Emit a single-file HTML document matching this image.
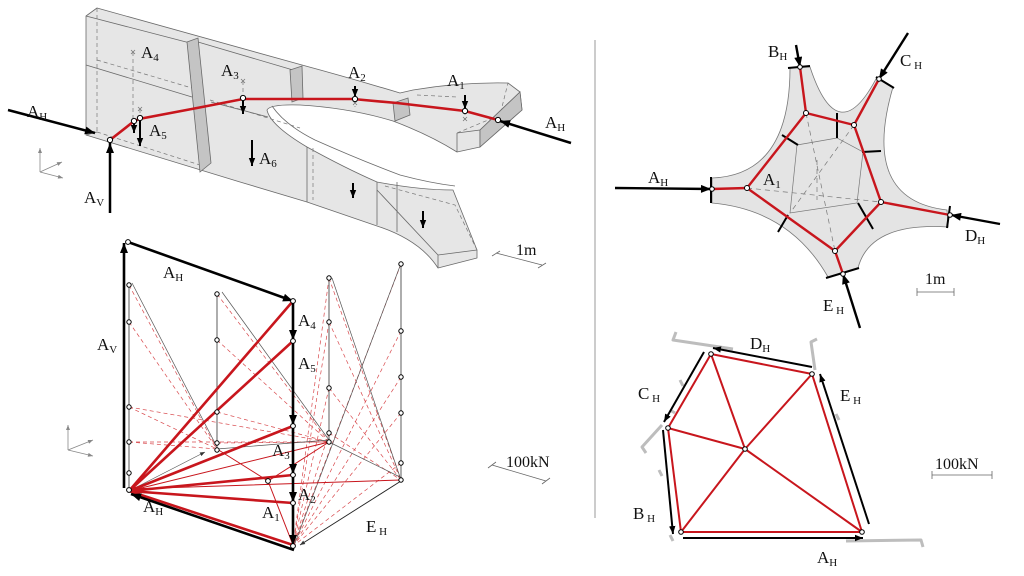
<!DOCTYPE html>
<html><head><meta charset="utf-8"><style>
html,body{margin:0;padding:0;background:#fff;}
svg{display:block;}
text{font-family:"Liberation Serif",serif;fill:#111;}
</style></head><body>
<svg width="1024" height="576" viewBox="0 0 1024 576" xmlns="http://www.w3.org/2000/svg">
<defs>
<marker id="ab" viewBox="0 0 10 8" refX="10" refY="4" markerWidth="11" markerHeight="8" orient="auto" markerUnits="userSpaceOnUse"><path d="M0,0 L10,4 L0,8 z" fill="#000"/></marker>
<marker id="as" viewBox="0 0 10 8" refX="10" refY="4" markerWidth="8" markerHeight="7" orient="auto" markerUnits="userSpaceOnUse"><path d="M0,0 L10,4 L0,8 z" fill="#000"/></marker>
<marker id="at" viewBox="0 0 10 8" refX="10" refY="4" markerWidth="6" markerHeight="4" orient="auto" markerUnits="userSpaceOnUse"><path d="M0,0 L10,4 L0,8 z" fill="#333"/></marker>
<marker id="ag" viewBox="0 0 10 8" refX="10" refY="4" markerWidth="6" markerHeight="4" orient="auto" markerUnits="userSpaceOnUse"><path d="M0,0 L10,4 L0,8 z" fill="#888"/></marker>
</defs>

<!-- ================= TOP LEFT 3D ================= -->
<g stroke="#6a6a6a" stroke-width="0.8" fill="#e6e6e6" stroke-linejoin="round">
<path d="M86,16 L97,8 L302,65 Q350,78 400,93 L413,90 Q460,82 508,83 L520,92 L522,110 L480,147 L457,152 Q430,135 393,121 Q350,108 300,105 Q270,104 267,110 Q270,125 307,147 Q345,168 377,182 Q420,190 453,190 L477,250 L477,258 L438,268 Q420,240 377,226 L307,202 L240,182 L86,135 Z"/>
</g>
<g fill="none" stroke="#6a6a6a" stroke-width="0.8">
<path d="M86,16 L190,43 M198,42 L293,70"/>
<path d="M86,65 L192,97 M211,102 L268,117"/>
<path d="M272,106 Q285,125 315,140 Q360,160 400,175 Q430,183 455,186"/>
<path d="M457,133 L480,130 L520,92"/>
<path d="M480,130 L480,147"/>
<path d="M457,133 L457,152"/>
<path d="M438,255 L477,250 M438,255 L438,268 M377,190 L438,255"/>
<path d="M307,147 L307,202 M377,182 L377,225 M397,182 L397,232"/>
<path d="M86,135 L97,132"/>
</g>
<g fill="none" stroke="#777" stroke-width="0.7" stroke-dasharray="4,3">
<path d="M97,8 L97,132"/>
<path d="M97,60 L192,88"/>
<path d="M97,132 L200,165"/>
<path d="M133,52 L133,118 M140,109 L140,118 M243,81 L243,97 M355,99 L355,107 M465,111 L465,120"/>
<path d="M210,100 L300,128"/>
<path d="M313,148 L313,200 M385,186 L455,205 L477,250"/>
<path d="M457,133 L500,115 L508,83"/>
<path d="M417,95 L457,97"/>
</g>
<g stroke="#777" stroke-width="0.8">
<path d="M131,50 l4,4 m0,-4 l-4,4 M138,107 l4,4 m0,-4 l-4,4 M241,79 l4,4 m0,-4 l-4,4 M353,101 l4,4 m0,-4 l-4,4 M463,117 l4,4 m0,-4 l-4,4"/>
</g>
<g fill="#c4c4c4" stroke="#6a6a6a" stroke-width="0.8">
<path d="M187,42 L198,38 L211,163 L200,172 Z"/>
<path d="M290,70 L302,66 L303,98 L292,102 Z"/>
<path d="M393,103 L408,98 L410,115 L395,121 Z"/>
<path d="M480,130 L520,92 L522,110 L480,147 Z"/>
</g>
<!-- thrust line -->
<path d="M110,140 L133,122 L139,119 L197,108 L243,99 L300,99 L353,99 L397,103 L465,111 L498,120" fill="none" stroke="#c8161d" stroke-width="2.6"/>
<!-- arrows -->
<g stroke="#000" stroke-width="2.5" fill="none">
<line x1="8" y1="110" x2="95" y2="133" marker-end="url(#ab)"/>
<line x1="110" y1="213" x2="110" y2="143" marker-end="url(#ab)"/>
<line x1="571" y1="143" x2="500" y2="121" marker-end="url(#ab)"/>
</g>
<g stroke="#000" stroke-width="2" fill="none">
<line x1="134" y1="122" x2="134" y2="133" marker-end="url(#as)"/>
<line x1="140" y1="120" x2="140" y2="146" marker-end="url(#as)"/>
<line x1="243" y1="100" x2="243" y2="114" marker-end="url(#as)"/>
<line x1="252" y1="140" x2="252" y2="166" marker-end="url(#as)"/>
<line x1="355" y1="86" x2="355" y2="97" marker-end="url(#as)"/>
<line x1="465" y1="95" x2="465" y2="109" marker-end="url(#as)"/>
<line x1="353" y1="183" x2="353" y2="198" marker-end="url(#as)"/>
<line x1="423" y1="211" x2="423" y2="228" marker-end="url(#as)"/>
</g>
<g fill="#fff" stroke="#000" stroke-width="1">
<circle cx="110" cy="140" r="2.6"/><circle cx="134" cy="121" r="2.6"/><circle cx="140" cy="118" r="2.6"/>
<circle cx="243" cy="98" r="2.6"/><circle cx="355" cy="99" r="2.6"/><circle cx="465" cy="111" r="2.6"/><circle cx="498" cy="120" r="2.6"/>
</g>
<!-- axes icon -->
<g stroke="#888" stroke-width="0.8" fill="none">
<line x1="40" y1="172" x2="40" y2="148" marker-end="url(#ag)"/>
<line x1="40" y1="172" x2="62" y2="162" marker-end="url(#ag)"/>
<line x1="40" y1="172" x2="63" y2="178" marker-end="url(#ag)"/>
</g>
<!-- 1m scale -->
<g stroke="#666" stroke-width="0.8" fill="none">
<path d="M496,253 L542,265 M492,256 L500,251 M538,268 L546,263"/>
</g>
<text x="27" y="117" font-size="17">A<tspan font-size="11" dy="3">H</tspan></text>
<text x="141" y="58" font-size="17">A<tspan font-size="11" dy="3">4</tspan></text>
<text x="221" y="76" font-size="17">A<tspan font-size="11" dy="3">3</tspan></text>
<text x="149" y="136" font-size="17">A<tspan font-size="11" dy="3">5</tspan></text>
<text x="259" y="164" font-size="17">A<tspan font-size="11" dy="3">6</tspan></text>
<text x="84" y="203" font-size="17">A<tspan font-size="11" dy="3">V</tspan></text>
<text x="348" y="78" font-size="17">A<tspan font-size="11" dy="3">2</tspan></text>
<text x="447" y="86" font-size="17">A<tspan font-size="11" dy="3">1</tspan></text>
<text x="545" y="128" font-size="17">A<tspan font-size="11" dy="3">H</tspan></text>
<text x="516" y="255" font-size="16">1m</text>

<!-- divider -->
<line x1="595" y1="40" x2="595" y2="518" stroke="#999" stroke-width="1"/>

<!-- ================= BOTTOM LEFT FORCE DIAGRAM ================= -->
<g stroke="#d8484c" stroke-width="0.7" stroke-dasharray="4,3" fill="none">
<path d="M129,285 L217,449 M129,322 L217,449 M129,407 L217,449 M129,442 L217,449"/>
<path d="M129,407 L329,442 M129,442 L329,442"/>
<path d="M217,294 L329,442 M217,340 L329,442 M217,412 L329,442 M217,443 L329,442"/>
<path d="M329,278 L401,480 M329,322 L401,480 M329,388 L401,480 M329,433 L401,480"/>
<path d="M329,278 L293,546 M329,322 L293,546 M329,388 L293,546 M329,433 L293,546"/>
<path d="M401,264 L293,546 M401,331 L293,546 M401,377 L293,546 M401,413 L293,546 M401,463 L293,546"/>
</g>
<g stroke="#555" stroke-width="0.7" fill="none">
<path d="M132,283 L217,447"/>
<path d="M222,292 L329,440"/>
<path d="M332,278 L400,477"/>
<path d="M400,266 L295,543"/>
<path d="M217,449 L329,440"/>
<path d="M329,442 L402,478"/>
<line x1="129" y1="491" x2="205" y2="452" marker-end="url(#at)"/>
</g>
<g stroke="#c8161d" stroke-width="1" fill="none">
<path d="M217,449 L268,481 L329,442 M268,481 L293,545 M129,489 L401,480 M129,491 L329,442"/>
</g>
<!-- columns -->
<g stroke="#777" stroke-width="1.2">
<line x1="129" y1="285" x2="129" y2="491"/>
<line x1="217" y1="294" x2="217" y2="450"/>
<line x1="329" y1="278" x2="329" y2="442"/>
<line x1="401" y1="264" x2="401" y2="480"/>
</g>
<!-- thick red rays -->
<g stroke="#c8161d" stroke-width="2.6" fill="none">
<path d="M129,491 L293,301 M129,491 L293,341 M129,491 L293,426 M129,491 L293,475 M129,491 L293,503 M129,491 L293,545"/>
</g>
<!-- black thick -->
<g stroke="#000" stroke-width="2.6" fill="none">
<line x1="124" y1="488" x2="124" y2="243" marker-end="url(#ab)"/>
<line x1="128" y1="242" x2="293" y2="301" marker-end="url(#ab)"/>
<line x1="293" y1="301" x2="293" y2="340" marker-end="url(#ab)"/>
<line x1="293" y1="341" x2="293" y2="425" marker-end="url(#ab)"/>
<line x1="293" y1="426" x2="293" y2="474" marker-end="url(#ab)"/>
<line x1="293" y1="475" x2="293" y2="502" marker-end="url(#ab)"/>
<line x1="293" y1="503" x2="293" y2="545" marker-end="url(#ab)"/>
<line x1="294" y1="550" x2="131" y2="494" marker-end="url(#ab)"/>
</g>
<line x1="401" y1="481" x2="300" y2="545" stroke="#222" stroke-width="0.9" marker-end="url(#at)"/>
<g fill="#fff" stroke="#000" stroke-width="1">
<circle cx="128" cy="242" r="2.4"/><circle cx="293" cy="301" r="2.4"/><circle cx="293" cy="341" r="2.4"/>
<circle cx="293" cy="426" r="2.4"/><circle cx="293" cy="475" r="2.4"/><circle cx="293" cy="503" r="2.4"/><circle cx="293" cy="546" r="2.4"/>
<circle cx="129" cy="490" r="2.4"/><circle cx="268" cy="481" r="2.4"/>
<circle cx="129" cy="285" r="2.2"/><circle cx="129" cy="322" r="2.2"/><circle cx="129" cy="407" r="2.2"/><circle cx="129" cy="442" r="2.2"/><circle cx="129" cy="473" r="2.2"/>
<circle cx="217" cy="294" r="2.2"/><circle cx="217" cy="340" r="2.2"/><circle cx="217" cy="412" r="2.2"/><circle cx="217" cy="443" r="2.2"/><circle cx="217" cy="450" r="2.2"/>
<circle cx="329" cy="278" r="2.2"/><circle cx="329" cy="322" r="2.2"/><circle cx="329" cy="388" r="2.2"/><circle cx="329" cy="433" r="2.2"/><circle cx="329" cy="442" r="2.2"/>
<circle cx="401" cy="264" r="2.2"/><circle cx="401" cy="331" r="2.2"/><circle cx="401" cy="377" r="2.2"/><circle cx="401" cy="413" r="2.2"/><circle cx="401" cy="463" r="2.2"/><circle cx="401" cy="480" r="2.2"/>
</g>
<g stroke="#888" stroke-width="0.8" fill="none">
<line x1="68" y1="450" x2="68" y2="425" marker-end="url(#ag)"/>
<line x1="68" y1="450" x2="93" y2="440" marker-end="url(#ag)"/>
<line x1="68" y1="450" x2="93" y2="456" marker-end="url(#ag)"/>
</g>
<g stroke="#666" stroke-width="0.8" fill="none">
<path d="M492,465 L546,481 M488,468 L496,462 M542,484 L550,478"/>
</g>
<text x="163" y="278" font-size="17">A<tspan font-size="11" dy="3">H</tspan></text>
<text x="97" y="350" font-size="17">A<tspan font-size="11" dy="3">V</tspan></text>
<text x="298" y="326" font-size="17">A<tspan font-size="11" dy="3">4</tspan></text>
<text x="298" y="369" font-size="17">A<tspan font-size="11" dy="3">5</tspan></text>
<text x="272" y="456" font-size="17">A<tspan font-size="11" dy="3">3</tspan></text>
<text x="298" y="500" font-size="17">A<tspan font-size="11" dy="3">2</tspan></text>
<text x="262" y="518" font-size="17">A<tspan font-size="11" dy="3">1</tspan></text>
<text x="143" y="512" font-size="17">A<tspan font-size="11" dy="3">H</tspan></text>
<text x="366" y="532" font-size="17">E<tspan font-size="11" dy="3"> H</tspan></text>
<text x="506" y="467" font-size="16">100kN</text>

<!-- ================= TOP RIGHT PLAN ================= -->
<path d="M712,178 Q790,175 790,68 L810,67 Q838,152 877,77 L893,87 Q860,200 947,210 L948,227 Q870,222 858,268 L828,277 Q790,210 712,203 Z" fill="#e4e4e4" stroke="#777" stroke-width="0.8"/>
<g fill="none" stroke="#777" stroke-width="0.7">
<path d="M797,145 L837,138 L863,152 L857,203 L790,213 Z"/>
</g>
<g fill="none" stroke="#777" stroke-width="0.7" stroke-dasharray="5,4">
<path d="M747,188 L881,202 M806,113 L835,251 M854,125 L790,213 M817,160 L817,200"/>
</g>
<g stroke="#000" stroke-width="2" fill="none">
<path d="M711,177 L711,203 M788,68 L810,66 M876,77 L894,88 M950,206 L947,228 M826,278 L859,268"/>
<path d="M782,135 L798,145 M837,113 L837,138 M862,152 L881,151 M858,203 L873,229 M788,215 L778,232"/>
</g>
<g stroke="#c8161d" stroke-width="2.4" fill="none" stroke-linejoin="round">
<path d="M747,188 L806,113 L854,125 L881,202 L835,251 Z"/>
<path d="M747,188 L712,189 M806,113 L800,67 M854,125 L879,79 M881,202 L950,215 M835,251 L843,274"/>
</g>
<g stroke="#000" stroke-width="2.4" fill="none">
<line x1="615" y1="188" x2="711" y2="189" marker-end="url(#ab)"/>
<line x1="796" y1="45" x2="800" y2="67" marker-end="url(#ab)"/>
<line x1="908" y1="33" x2="879" y2="79" marker-end="url(#ab)"/>
<line x1="1000" y1="224" x2="951" y2="215" marker-end="url(#ab)"/>
<line x1="860" y1="328" x2="843" y2="274" marker-end="url(#ab)"/>
</g>
<g fill="#fff" stroke="#000" stroke-width="1">
<circle cx="747" cy="188" r="2.5"/><circle cx="806" cy="113" r="2.5"/><circle cx="854" cy="125" r="2.5"/><circle cx="881" cy="202" r="2.5"/><circle cx="835" cy="251" r="2.5"/>
<circle cx="712" cy="189" r="2.3"/><circle cx="800" cy="67" r="2.3"/><circle cx="879" cy="79" r="2.3"/><circle cx="950" cy="215" r="2.3"/><circle cx="843" cy="274" r="2.3"/>
</g>
<g stroke="#666" stroke-width="0.8"><path d="M917,292 L954,292 M917,288 L917,296 M954,288 L954,296"/></g>
<text x="648" y="183" font-size="17">A<tspan font-size="11" dy="3">H</tspan></text>
<text x="763" y="185" font-size="17">A<tspan font-size="11" dy="3">1</tspan></text>
<text x="768" y="57" font-size="17">B<tspan font-size="11" dy="3">H</tspan></text>
<text x="900" y="66" font-size="17">C<tspan font-size="11" dy="3"> H</tspan></text>
<text x="965" y="241" font-size="17">D<tspan font-size="11" dy="3">H</tspan></text>
<text x="823" y="311" font-size="17">E<tspan font-size="11" dy="3"> H</tspan></text>
<text x="925" y="284" font-size="16">1m</text>

<!-- ================= BOTTOM RIGHT POLYGON ================= -->
<g stroke="#bdbdbd" stroke-width="3" fill="none" stroke-linejoin="round">
<path d="M676,332 L673,340 L733,349"/>
<path d="M817,339 L811,342 L815,370"/>
<path d="M646,453 L642,447 L662,425"/>
<path d="M846,541 L921,540 L923,547"/>
<path d="M680,380 L683,386 M659,470 L662,476 M670,535 L673,541 M836,414 L839,420 M670,410 L675,413"/>
</g>
<g stroke="#c8161d" stroke-width="2" fill="none" stroke-linejoin="round">
<path d="M711,354 L812,374 L862,532 L681,532 L668,428 Z"/>
<path d="M745,449 L711,354 M745,449 L812,374 M745,449 L862,532 M745,449 L681,532 M745,449 L668,428"/>
</g>
<g stroke="#000" stroke-width="2" fill="none">
<line x1="812" y1="367" x2="713" y2="348" marker-end="url(#as)"/>
<line x1="704" y1="352" x2="664" y2="422" marker-end="url(#as)"/>
<line x1="663" y1="430" x2="673" y2="534" marker-end="url(#as)"/>
<line x1="683" y1="538" x2="863" y2="538" marker-end="url(#as)"/>
<line x1="869" y1="524" x2="820" y2="374" marker-end="url(#as)"/>
</g>
<g fill="#fff" stroke="#000" stroke-width="1">
<circle cx="711" cy="354" r="2.3"/><circle cx="812" cy="374" r="2.3"/><circle cx="668" cy="428" r="2.3"/><circle cx="745" cy="449" r="2.3"/><circle cx="681" cy="532" r="2.3"/><circle cx="862" cy="532" r="2.3"/>
</g>
<g stroke="#666" stroke-width="0.8"><path d="M932,475 L992,475 M932,471 L932,479 M992,471 L992,479"/></g>
<text x="750" y="349" font-size="17">D<tspan font-size="11" dy="3">H</tspan></text>
<text x="638" y="399" font-size="17">C<tspan font-size="11" dy="3"> H</tspan></text>
<text x="840" y="401" font-size="17">E<tspan font-size="11" dy="3"> H</tspan></text>
<text x="633" y="519" font-size="17">B<tspan font-size="11" dy="3"> H</tspan></text>
<text x="817" y="563" font-size="17">A<tspan font-size="11" dy="3">H</tspan></text>
<text x="935" y="469" font-size="16">100kN</text>
</svg>
</body></html>
